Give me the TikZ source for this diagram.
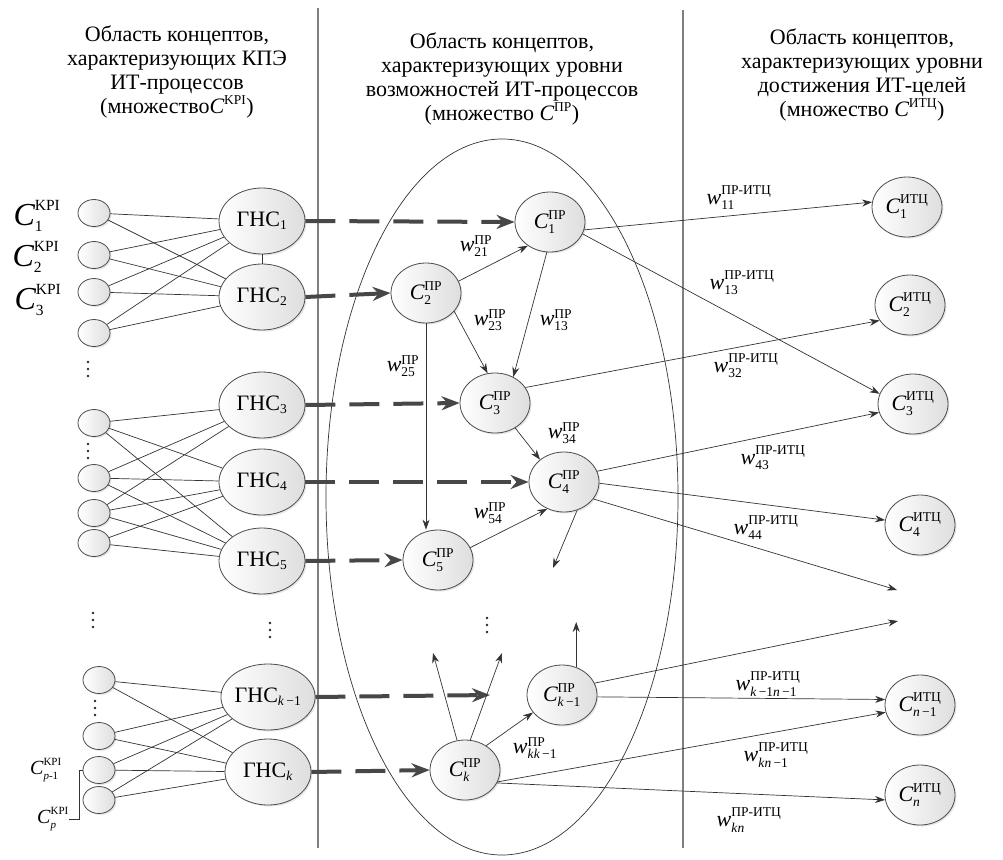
\documentclass[tikz,border=0pt]{standalone}
\usepackage{amsmath}
\usepackage{fontspec}
\IfFontExistsTF{Liberation Serif}{\setmainfont{Liberation Serif}}{\setmainfont{DejaVu Serif}}
\usetikzlibrary{shapes.geometric,arrows.meta,shadows}
\DeclareMathSizes{22}{22}{13.5}{10}
\DeclareMathSizes{32}{32}{15.5}{12}
\DeclareMathSizes{20}{20}{11}{8}
\newcommand\Cc[2]{$\textit{C}^{\text{#1}}_{\text{#2}}$}
\newcommand\Ww[2]{$\textit{w}^{\text{#1}}_{\text{#2}}$}
\newcommand\kit{\textit{k}}
\newcommand\nit{\textit{n}}
\newcommand\vdt[2]{\foreach \dd in {-7,0,7}{\fill[black!85] (#1,#2+\dd) circle (1.4pt);}}
\tikzset{
  nd/.style={ellipse, draw=black!70, line width=0.8pt, inner sep=0pt,
    left color=white, right color=black!13,
    drop shadow={shadow xshift=1.5pt, shadow yshift=-1.5pt, opacity=0.2},
    font=\fontsize{22}{22}\selectfont},
  kpi/.style={nd, minimum width=32pt, minimum height=27pt},
  ghs/.style={nd, minimum width=86pt, minimum height=66pt},
  cn/.style={nd, minimum width=70pt, minimum height=60pt},
  link/.style={draw=black!80, line width=0.7pt},
  arr/.style={link, -{Stealth[length=10pt,width=7pt]}},
  darr/.style={draw=black!72, line width=4pt, dash pattern=on 30pt off 14pt, -{Stealth[length=18pt,width=14pt]}},
  wl/.style={inner sep=0pt, font=\fontsize{22}{22}\selectfont},
  bigl/.style={inner sep=0pt, font=\fontsize{32}{32}\selectfont},
  smll/.style={inner sep=0pt, font=\fontsize{20}{20}\selectfont},
  ttl/.style={align=center, inner sep=0pt, font=\fontsize{22}{24}\selectfont},
  sepl/.style={draw=black!50, line width=1.2pt},
}
\begin{document}
\begin{tikzpicture}[x=1pt,y=-1pt]
\useasboundingbox (0,0) rectangle (1003,859);
% separators
\coordinate (s1a) at (318,8); \coordinate (s1b) at (318,848);
\coordinate (s2a) at (683,10); \coordinate (s2b) at (683,848);
\draw[sepl] (s1a) -- (s1b);
\draw[sepl] (s2a) -- (s2b);
% titles
\node[ttl] (ttlL) at (177,72) {Область концептов,\\характеризующих КПЭ\\ИТ-процессов\\(множество$\textit{C}^{\text{KPI}}$)};
\node[ttl] (ttlM) at (502,79) {Область концептов,\\характеризующих уровни\\возможностей ИТ-процессов\\(множество $\textit{C}^{\text{ПР}}$)};
\node[ttl] (ttlR) at (862,75) {Область концептов,\\характеризующих уровни\\достижения ИТ-целей\\(множество $\textit{C}^{\text{ИТЦ}}$)};
% big ellipse
\draw[draw=black!80, line width=0.7pt] (502,497) ellipse [x radius=176pt, y radius=358pt];
% KPI nodes
\node[kpi] (k1) at (94,213) {};
\node[kpi] (k2) at (94,255) {};
\node[kpi] (k3) at (94,292) {};
\node[kpi] (k4) at (94,333) {};
\node[kpi] (k5) at (94,423) {};
\node[kpi] (k6) at (94,478) {};
\node[kpi] (k7) at (94,513) {};
\node[kpi] (k8) at (94,543) {};
\node[kpi] (k9) at (99,680) {};
\node[kpi] (k10) at (99,736) {};
\node[kpi] (k11) at (99,770) {};
\node[kpi] (k12) at (99,800) {};
% GHS nodes
\node[ghs] (g1) at (262,221) {ГНС$_{\text{1}}$};
\node[ghs] (g2) at (262,297) {ГНС$_{\text{2}}$};
\node[ghs] (g3) at (262,405) {ГНС$_{\text{3}}$};
\node[ghs] (g4) at (262,482) {ГНС$_{\text{4}}$};
\node[ghs] (g5) at (262,561) {ГНС$_{\text{5}}$};
\node[ghs] (gk1) at (268,697) {ГНС$_{\text{\kit\,−1}}$};
\node[ghs] (gk) at (268,772) {ГНС$_{\text{\kit}}$};
% PR nodes
\node[cn] (c1) at (550,222) {\Cc{ПР}{1}};
\node[cn] (c2) at (426,293) {\Cc{ПР}{2}};
\node[cn] (c3) at (495,403) {\Cc{ПР}{3}};
\node[cn] (c4) at (564,482) {\Cc{ПР}{4}};
\node[cn] (c5) at (438,560) {\Cc{ПР}{5}};
\node[cn] (ck1) at (562,695) {\Cc{ПР}{\kit\,−1}};
\node[cn] (ck) at (465,770) {\Cc{ПР}{\kit}};
% ITC nodes
\node[cn] (t1) at (907,207) {\Cc{ИТЦ}{1}};
\node[cn] (t2) at (910,305) {\Cc{ИТЦ}{2}};
\node[cn] (t3) at (913,404) {\Cc{ИТЦ}{3}};
\node[cn] (t4) at (920,525) {\Cc{ИТЦ}{4}};
\node[cn] (tn1) at (920,705) {\Cc{ИТЦ}{\nit\,−1}};
\node[cn] (tn) at (920,795) {\Cc{ИТЦ}{\nit}};
% KPI labels
\node[bigl] (l1) at (37,216) {\Cc{KPI}{1}};
\node[bigl] (l2) at (36,257) {\Cc{KPI}{2}};
\node[bigl] (l3) at (38,300) {\Cc{KPI}{3}};
\node[smll] (lp1) at (46,770) {\Cc{KPI}{\textit{p}-1}};
\node[smll, anchor=east] (lp) at (69,819) {\Cc{KPI}{\textit{p}}};
\draw[link] (k11.west) -- ++(-3,0) |- (lp.east);
% dots
\vdt{88}{369}
\vdt{88}{451}
\vdt{93}{620}
\vdt{95}{708}
\vdt{270}{630}
\vdt{487}{625}
% KPI -> GHS links
\foreach \a/\b in {k1/g1,k1/g2,k2/g1,k2/g2,k3/g1,k3/g2,k4/g1,k4/g2,
  k5/g3,k5/g4,k5/g5,k6/g3,k6/g4,k6/g5,k7/g3,k7/g4,k7/g5,k8/g4,k8/g5,
  k9/gk1,k9/gk,k10/gk1,k10/gk,k11/gk1,k11/gk,k12/gk1,k12/gk}
  {\draw[link] (\a) -- (\b);}
\draw[link] (g1) -- (g2);
% free ends
\coordinate (f4) at (553,568);
\coordinate (fr4) at (897,590);
\coordinate (frk) at (898,621);
\coordinate (fu) at (577,622);
\coordinate (fl) at (433,653);
\coordinate (fm) at (502,653);
\coordinate (fgk) at (490,695);
% dashed arrows
\draw[darr] (g1.east) -- (c1.west);
\draw[darr] (g2.east) -- (c2.west);
\draw[darr] (g3.east) -- (c3.west);
\draw[darr] (g4.east) -- (c4.west);
\draw[darr] (g5.east) -- (c5.west);
\draw[darr] (gk1.east) -- (fgk);
\draw[darr] (gk.east) -- (ck.west);
% PR arrows
\draw[arr] (c2.20) -- (c1.-133);
\draw[arr] (c1.-96) -- (c3.55);
\draw[arr] (c2.-33) -- (c3.104);
\draw[arr] (c2.south) -- (c2.south |- c5.north);
\draw[arr] (c3.-51) -- (c4.137);
\draw[arr] (c5.21) -- (c4.-122);
\draw[arr] (c4.-65) -- (f4);
\draw[arr] (ck1.63) -- (ck1.63 |- fu);
\draw[arr] (ck.49) -- (ck1.-149);
\draw[arr] (ck.105) -- (fl);
\draw[arr] (ck.80) -- (fm);
% PR -> ITC arrows
\draw[arr] (c1.-13) -- (t1.172);
\draw[arr] (c1.-20) -- (t3.163);
\draw[arr] (c3.27) -- (t2.-153);
\draw[arr] (c4.18) -- (t3.194);
\draw[arr] (c4.-2) -- (t4.172);
\draw[arr] (c4.-30) -- (fr4);
\draw[arr] (ck1.20) -- (frk);
\draw[arr] (ck1.-3) -- (tn1.171);
\draw[arr] (ck.-20) -- (tn1.192);
\draw[arr] (ck.-22) -- (tn.188);
% weight labels
\node[wl] (w21) at (476,246) {\Ww{ПР}{21}};
\node[wl] (w13) at (556,320) {\Ww{ПР}{13}};
\node[wl] (w23) at (490,320) {\Ww{ПР}{23}};
\node[wl] (w25) at (403,366) {\Ww{ПР}{25}};
\node[wl] (w34) at (564,433) {\Ww{ПР}{34}};
\node[wl] (w54) at (490,513) {\Ww{ПР}{54}};
\node[wl] (wkk) at (535,748) {\Ww{ПР}{\kit\kit\,−1}};
\node[wl] (v11) at (739,198) {\Ww{ПР-ИТЦ}{11}};
\node[wl] (v13) at (742,283) {\Ww{ПР-ИТЦ}{13}};
\node[wl] (v32) at (746,366) {\Ww{ПР-ИТЦ}{32}};
\node[wl] (v43) at (773,458) {\Ww{ПР-ИТЦ}{43}};
\node[wl] (v44) at (766,528) {\Ww{ПР-ИТЦ}{44}};
\node[wl] (vkn1) at (768,684) {\Ww{ПР-ИТЦ}{\kit\,−1\nit\,−1}};
\node[wl] (vkn) at (776,755) {\Ww{ПР-ИТЦ}{\kit\nit\,−1}};
\node[wl] (vn) at (749,820) {\Ww{ПР-ИТЦ}{\kit\nit}};
\end{tikzpicture}
\end{document}
